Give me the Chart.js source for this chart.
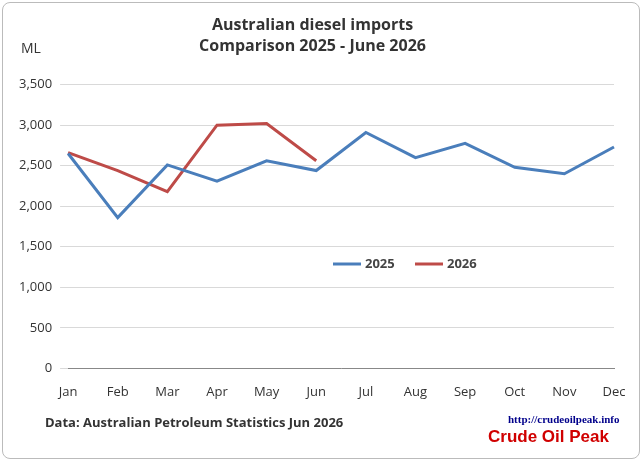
<!DOCTYPE html>
<html><head><meta charset="utf-8">
<script src="https://cdn.jsdelivr.net/npm/chart.js@4"></script>
<style>
body{margin:0;background:#fff}
#wrap{position:absolute;left:2px;top:2px;width:636px;height:455px;border:1px solid #bbb;border-radius:8px;background:#fff}
canvas{display:block}
</style></head><body>
<div id="wrap"><canvas id="c" width="636" height="455"></canvas></div>
<script>
const months = ["Jan","Feb","Mar","Apr","May","Jun","Jul","Aug","Sep","Oct","Nov","Dec"]
const imports2025 = [2650,1860,2510,2310,2560,2440,2910,2600,2775,2480,2400,2730]
const imports2026 = [2660,2440,2180,3000,3020,2560]

// text outside the plot: unit, legend, source and logo
const extras = {
  id: "extras",
  afterDraw(chart) {
    const ctx = chart.ctx
    ctx.save()
    ctx.fillStyle = "#333"
    ctx.font = "14px 'Open Sans', sans-serif"
    ctx.textBaseline = "middle"
    ctx.fillText("ML", 18, 46)
    ctx.font = "bold 13px 'Open Sans', sans-serif"
    ctx.fillText("Data: Australian Petroleum Statistics Jun 2026", 42, 420)
    // legend
    const items = [["2025", "#4a7ebb"], ["2026", "#be4b48"]]
    let x = 330
    items.forEach(([t, c]) => {
      ctx.strokeStyle = c; ctx.lineWidth = 3
      ctx.beginPath(); ctx.moveTo(x, 261); ctx.lineTo(x + 28, 261); ctx.stroke()
      ctx.fillStyle = "#444"; ctx.fillText(t, x + 32, 261)
      x += 82
    })
    // logo
    ctx.fillStyle = "#00008b"
    ctx.font = "bold 11px 'Liberation Serif', serif"
    ctx.fillText("http://crudeoilpeak.info", 505, 417)
    ctx.fillStyle = "#d00000"
    ctx.font = "bold 17px 'Liberation Sans', sans-serif"
    ctx.fillText("Crude Oil Peak", 485, 434)
    ctx.restore()
  }
}

new Chart(document.getElementById("c"), {
  type: "line",
  data: {
    labels: months,
    datasets: [
      { label: "2025", data: imports2025, borderColor: "#4a7ebb", borderWidth: 3, pointRadius: 0, tension: 0 },
      { label: "2026", data: imports2026, borderColor: "#be4b48", borderWidth: 3, pointRadius: 0, tension: 0 }
    ]
  },
  options: {
    responsive: false,
    animation: false,
    layout: { padding: { left: 8, right: 25, top: 0, bottom: 50 } },
    plugins: {
      legend: { display: false },
      tooltip: { enabled: false },
      title: {
        display: true,
        text: ["Australian diesel imports", "Comparison 2025 - June 2026"],
        color: "#333",
        font: { family: "'Open Sans', sans-serif", size: 16, weight: "bold", lineHeight: 1.3 },
        padding: { top: 12, bottom: 28 }
      }
    },
    scales: {
      x: {
        offset: false,
        grid: { display: false },
        border: { color: "#888" },
        ticks: { color: "#333", font: { family: "'Open Sans', sans-serif", size: 13 }, padding: 8 }
      },
      y: {
        min: 0, max: 3500,
        ticks: {
          stepSize: 500, color: "#333", padding: 8,
          font: { family: "'Open Sans', sans-serif", size: 13 },
          callback: v => v.toLocaleString("en-US")
        },
        grid: { color: "#d9d9d9" },
        border: { display: false }
      }
    }
  },
  plugins: [extras]
})
</script>
</body></html>
